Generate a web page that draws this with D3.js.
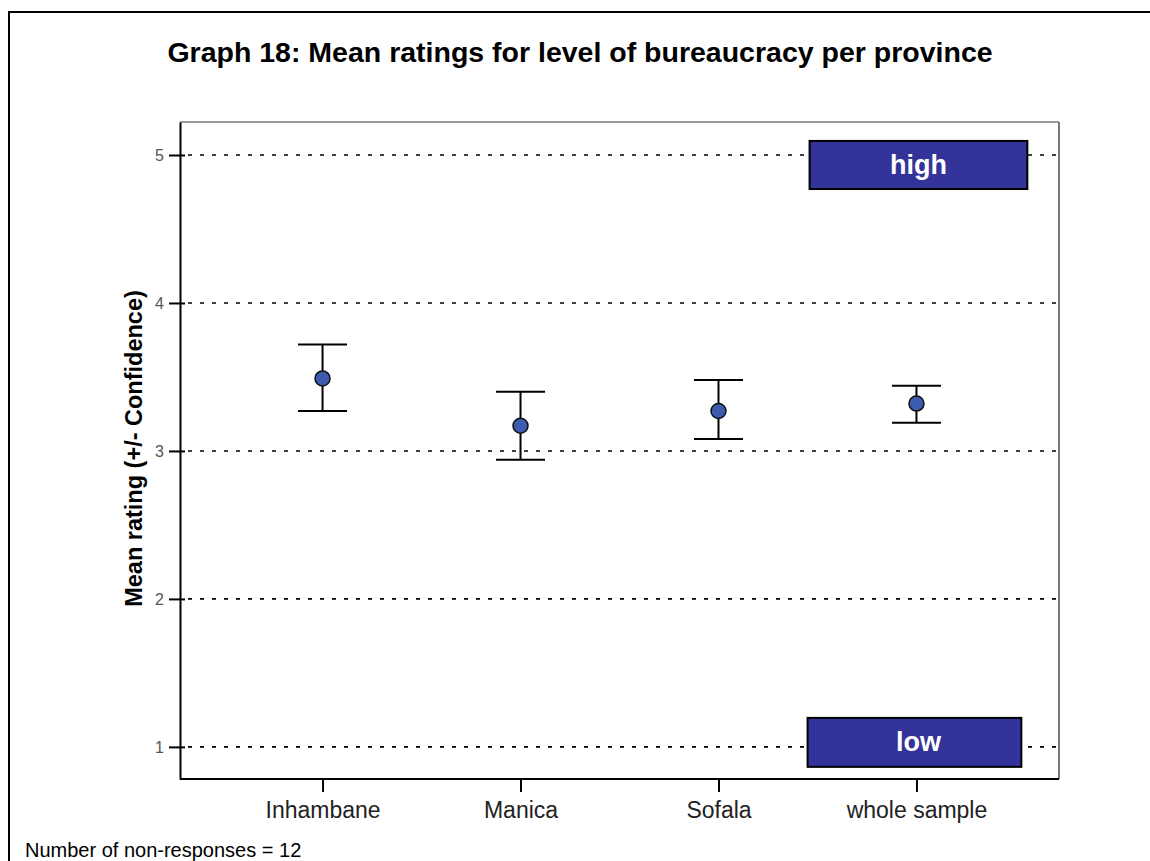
<!DOCTYPE html>
<html>
<head>
<meta charset="utf-8">
<script src="https://cdn.jsdelivr.net/npm/d3@7/dist/d3.min.js"></script>
<style>
  html, body { margin: 0; padding: 0; background: #fff; }
  svg { display: block; }
  text { font-family: Arial, "Liberation Sans", sans-serif; }
</style>
</head>
<body>
<svg id="chart" width="1150" height="861"></svg>
<script>
const categories = ["Inhambane", "Manica", "Sofala", "whole sample"];
const means = [3.49, 3.17, 3.27, 3.32];
const lower = [3.27, 2.94, 3.08, 3.19];
const upper = [3.72, 3.40, 3.48, 3.44];
const yTicks = [1, 2, 3, 4, 5];
const annotLabels = ["high", "low"];
const annotTop = [5.095, 1.196];
const annotBottom = [4.77, 0.865];

const title = "Graph 18: Mean ratings for level of bureaucracy per province";
const yLabel = "Mean rating (+/- Confidence)";
const footer = "Number of non-responses = 12";

const svg = d3.select("#chart");
const W = 1150, H = 861;
const plot = { left: 180, right: 1059, top: 122, bottom: 779 };

// outer frame (extends past right/bottom edges)
svg.append("rect")
  .attr("x", 9).attr("y", 12).attr("width", W + 20).attr("height", H + 20)
  .attr("fill", "none").attr("stroke", "#000").attr("stroke-width", 2);

const x = d3.scalePoint().domain(categories).range([plot.left, plot.right]).padding(0.72);
const y = d3.scaleLinear().domain([0.783, 5.223]).range([plot.bottom, plot.top]);

// title
svg.append("text")
  .attr("x", 580).attr("y", 62)
  .attr("text-anchor", "middle")
  .attr("font-size", 28.5).attr("font-weight", "bold")
  .attr("fill", "#000")
  .text(title);

// gridlines
svg.append("g").selectAll("line").data(yTicks).join("line")
  .attr("x1", plot.left + 8).attr("x2", plot.right)
  .attr("y1", d => y(d)).attr("y2", d => y(d))
  .attr("stroke", "#000").attr("stroke-width", 1.6)
  .attr("stroke-dasharray", "4,8");

// plot frame: top/right gray
svg.append("line").attr("x1", plot.left).attr("x2", plot.right).attr("y1", plot.top).attr("y2", plot.top)
  .attr("stroke", "#777").attr("stroke-width", 1.5);
svg.append("line").attr("x1", plot.right).attr("x2", plot.right).attr("y1", plot.top).attr("y2", plot.bottom)
  .attr("stroke", "#777").attr("stroke-width", 2);

// y axis
const yAxis = d3.axisLeft(y).tickValues(yTicks).tickFormat(d3.format("d")).tickSize(11).tickSizeOuter(0).tickPadding(5);
const gy = svg.append("g").attr("transform", `translate(${plot.left},0)`).call(yAxis);
gy.select(".domain").attr("stroke", "#000").attr("stroke-width", 2);
gy.selectAll(".tick line").attr("stroke", "#000").attr("stroke-width", 2).attr("x2", 5).attr("x1", -11);
gy.selectAll(".tick text").attr("font-size", 16).attr("fill", "#555")
  .attr("font-family", "Arial, 'Liberation Sans', sans-serif").attr("x", -16);

// x axis
const xAxis = d3.axisBottom(x).tickSize(13).tickSizeOuter(0).tickPadding(10);
const gx = svg.append("g").attr("transform", `translate(0,${plot.bottom})`).call(xAxis);
gx.select(".domain").attr("stroke", "#000").attr("stroke-width", 2)
  .attr("d", `M${plot.left},0H${plot.right}`);
gx.selectAll(".tick line").attr("stroke", "#000").attr("stroke-width", 2);
gx.selectAll(".tick text").attr("font-size", 23).attr("fill", "#222")
  .attr("font-family", "Arial, 'Liberation Sans', sans-serif");

// y label
svg.append("text")
  .attr("transform", `translate(142,${(plot.top + plot.bottom) / 2 - 2}) rotate(-90)`)
  .attr("text-anchor", "middle")
  .attr("font-size", 23.5).attr("font-weight", "bold").attr("fill", "#000")
  .text(yLabel);

// annotation boxes
const ann = annotLabels.map((l, i) => ({ label: l, top: annotTop[i], bottom: annotBottom[i] }));
const boxW = x.step() * 1.1;
const cx = x(categories[3]) + 2;
const ag = svg.append("g").selectAll("g").data(ann).join("g");
ag.append("rect")
  .attr("x", (d, i) => cx - boxW / 2 + (i === 1 ? -2 : 0))
  .attr("width", (d, i) => boxW - (i === 1 ? 4 : 0))
  .attr("y", d => y(d.top))
  .attr("height", d => y(d.bottom) - y(d.top))
  .attr("fill", "#333399").attr("stroke", "#000").attr("stroke-width", 2);
ag.append("text")
  .attr("x", cx)
  .attr("y", d => (y(d.top) + y(d.bottom)) / 2 + 9)
  .attr("text-anchor", "middle")
  .attr("font-size", 27).attr("font-weight", "bold").attr("fill", "#fff")
  .attr("font-family", "'Liberation Sans Narrow', 'Arial Narrow', Arial, sans-serif")
  .text(d => d.label);

// error bars
const data = categories.map((c, i) => ({ c, m: means[i], lo: lower[i], hi: upper[i] }));
const capW = 49;
const eg = svg.append("g").selectAll("g").data(data).join("g");
eg.append("line")
  .attr("x1", d => x(d.c)).attr("x2", d => x(d.c))
  .attr("y1", d => y(d.hi)).attr("y2", d => y(d.lo))
  .attr("stroke", "#000").attr("stroke-width", 2);
eg.append("line")
  .attr("x1", d => x(d.c) - capW / 2).attr("x2", d => x(d.c) + capW / 2)
  .attr("y1", d => y(d.hi)).attr("y2", d => y(d.hi))
  .attr("stroke", "#000").attr("stroke-width", 2);
eg.append("line")
  .attr("x1", d => x(d.c) - capW / 2).attr("x2", d => x(d.c) + capW / 2)
  .attr("y1", d => y(d.lo)).attr("y2", d => y(d.lo))
  .attr("stroke", "#000").attr("stroke-width", 2);
eg.append("circle")
  .attr("cx", d => x(d.c)).attr("cy", d => y(d.m)).attr("r", 7.5)
  .attr("fill", "#3d5cb0").attr("stroke", "#111").attr("stroke-width", 1.5);

// footer
svg.append("text")
  .attr("x", 25).attr("y", 857)
  .attr("font-size", 20).attr("fill", "#000")
  .text(footer);
</script>
</body>
</html>
